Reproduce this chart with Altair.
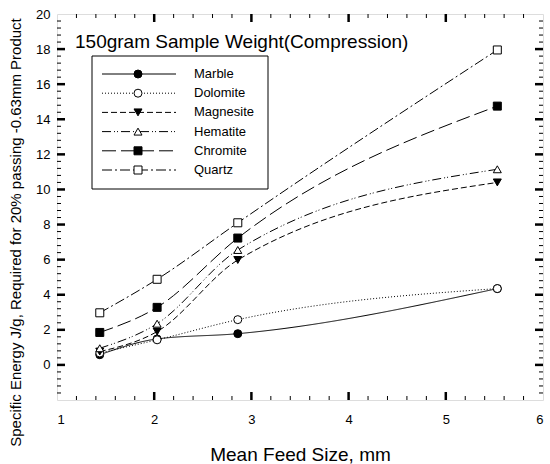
import altair as alt
import pandas as pd

# ---------------- data ----------------
feed_size = [1.44, 2.03, 2.86, 5.53]
materials = ["Marble", "Dolomite", "Magnesite", "Hematite", "Chromite", "Quartz"]
marble = [0.58, 1.48, 1.78, 4.35]
dolomite = [0.68, 1.43, 2.58, 4.35]
magnesite = [0.76, 1.90, 5.98, 10.40]
hematite = [0.95, 2.35, 6.55, 11.15]
chromite = [1.85, 3.28, 7.23, 14.75]
quartz = [2.97, 4.88, 8.10, 17.95]

x_labels = [1, 2, 3, 4, 5, 6]
y_labels = [0, 2, 4, 6, 8, 10, 12, 14, 16, 18, 20]

title_text = "150gram Sample Weight(Compression)"
x_title = "Mean Feed Size, mm"
y_title = "Specific Energy J/g, Required for 20% passing -0.63mm Product"

# styles
dashes = [[1, 0], [1, 2], [6, 3], [9, 3, 1, 2, 1, 3], [14, 5], [10, 3, 2, 3]]
shapes = ["circle", "circle", "triangle-down", "triangle-up", "square", "square"]
fills = ["black", "white", "black", "white", "black", "white"]

FONT = "Liberation Sans"
W, H = 486, 386

values = [marble, dolomite, magnesite, hematite, chromite, quartz]
rows = []
for m, vals in zip(materials, values):
    for xs, v in zip(feed_size, vals):
        rows.append({"material": m, "size": xs, "energy": v})
df = pd.DataFrame(rows)

x_major = [2, 3, 4, 5]
x_minor = [round(1 + 0.2 * i, 1) for i in range(1, 25) if i % 5 != 0]
y_major = [0, 2, 4, 6, 8, 10, 12, 14, 16, 18]
y_minor = [round(-2 + 0.4 * i, 1) for i in range(1, 55) if i % 5 != 0]

xscale = alt.Scale(domain=[1, 6], nice=False, zero=False)
yscale = alt.Scale(domain=[-2, 20], nice=False, zero=False)

x_axis = alt.Axis(values=x_labels, format="d", ticks=False, domain=False, grid=False,
                  labelFontSize=13, labelFont=FONT, labelColor="black", labelPadding=13,
                  title=x_title, titleFont=FONT, titleFontSize=19, titleFontWeight="normal",
                  titleColor="black", titleX=W / 2, titleY=60, titleBaseline="alphabetic")
y_axis = alt.Axis(values=y_labels, format="d", ticks=False, domain=False, grid=False,
                  labelFontSize=13, labelFont=FONT, labelColor="black", labelPadding=7,
                  title=y_title, titleFont=FONT, titleFontSize=15, titleFontWeight="normal",
                  titleColor="black", titleX=-42, titleY=218, titleBaseline="middle")

dash_enc = alt.StrokeDash("material:N", scale=alt.Scale(domain=materials, range=dashes), legend=None)
shape_enc = alt.Shape("material:N", scale=alt.Scale(domain=materials, range=shapes), legend=None)
fill_enc = alt.Fill("material:N", scale=alt.Scale(domain=materials, range=fills), legend=None)

lines = alt.Chart(df).mark_line(interpolate="monotone", color="black", strokeWidth=1).encode(
    x=alt.X("size:Q", scale=xscale, axis=x_axis, title=x_title),
    y=alt.Y("energy:Q", scale=yscale, axis=y_axis, title=y_title),
    strokeDash=dash_enc,
    detail="material:N",
)

points = alt.Chart(df).mark_point(filled=True, stroke="black", strokeWidth=1, size=64, opacity=1).encode(
    x=alt.X("size:Q", scale=xscale, axis=x_axis, title=x_title),
    y=alt.Y("energy:Q", scale=yscale, axis=y_axis, title=y_title),
    shape=shape_enc,
    fill=fill_enc,
)

def xticks(vals, length, width):
    d = pd.DataFrame({"size": vals})
    enc_x = alt.X("size:Q", scale=xscale, axis=x_axis, title=x_title)
    bottom = alt.Chart(d).mark_rule(color="black", strokeWidth=width).encode(
        x=enc_x, y=alt.value(H), y2=alt.value(H - length))
    top = alt.Chart(d).mark_rule(color="black", strokeWidth=width).encode(
        x=enc_x, y=alt.value(0), y2=alt.value(length))
    return [bottom, top]

def yticks(vals, length, width):
    d = pd.DataFrame({"energy": vals})
    enc_y = alt.Y("energy:Q", scale=yscale, axis=y_axis, title=y_title)
    left = alt.Chart(d).mark_rule(color="black", strokeWidth=width).encode(
        y=enc_y, x=alt.value(0), x2=alt.value(length))
    right = alt.Chart(d).mark_rule(color="black", strokeWidth=width).encode(
        y=enc_y, x=alt.value(W), x2=alt.value(W - length))
    return [left, right]

tick_layers = xticks(x_major, 8, 2.5) + xticks(x_minor, 4, 1) + yticks(y_major, 8, 2.5) + yticks(y_minor, 4, 1)

title = alt.Chart(pd.DataFrame({"t": [title_text]})).mark_text(
    align="left", baseline="alphabetic", font=FONT, fontSize=19, color="black"
).encode(x=alt.value(18), y=alt.value(34), text="t:N")

main = alt.layer(lines, points, *tick_layers, title)

# ---------------- legend ----------------
leg_df = pd.DataFrame({"material": materials})
leg_y = alt.Y("material:N", scale=alt.Scale(type="point", domain=materials, range=[60, 156], padding=0), axis=None)

box = alt.Chart(pd.DataFrame({"a": [0]})).mark_rect(fill="white", stroke="black", strokeWidth=1).encode(
    x=alt.value(35), x2=alt.value(211), y=alt.value(42), y2=alt.value(175))
leg_lines = alt.Chart(leg_df).mark_rule(color="black", strokeWidth=1).encode(
    x=alt.value(45), x2=alt.value(119), y=leg_y, strokeDash=dash_enc)
leg_pts = alt.Chart(leg_df).mark_point(filled=True, stroke="black", strokeWidth=1, size=64, opacity=1).encode(
    x=alt.value(81), y=leg_y, shape=shape_enc, fill=fill_enc)
leg_text = alt.Chart(leg_df).mark_text(align="left", baseline="middle", font=FONT, fontSize=13, color="black").encode(
    x=alt.value(137), y=leg_y, text="material:N")

legend = alt.layer(box, leg_lines, leg_pts, leg_text)

chart = alt.layer(main, legend).resolve_scale(y="independent").properties(
    width=W, height=H,
    padding={"left": 57, "top": 14, "right": 7, "bottom": 64},
    autosize=alt.AutoSizeParams(type="none"),
).configure_view(stroke="black", strokeWidth=1).configure(background="white")

chart.save("out.html", embed_options={"renderer": "svg", "actions": False})
